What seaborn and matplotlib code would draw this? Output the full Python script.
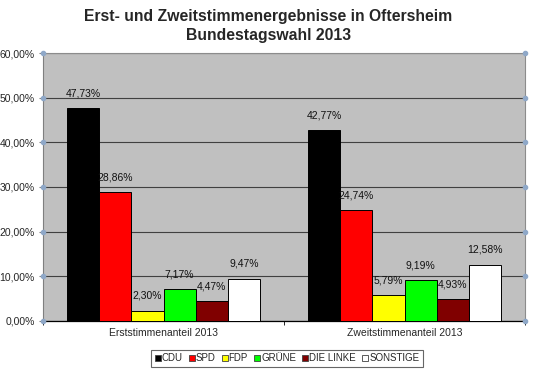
import pandas as pd
import seaborn as sns
import matplotlib.pyplot as plt
from matplotlib.ticker import FuncFormatter
from matplotlib.lines import Line2D

# Daten
gruppen = ['Erststimmenanteil 2013', 'Zweitstimmenanteil 2013']
parteien = ['CDU', 'SPD', 'FDP', 'GRÜNE', 'DIE LINKE', 'SONSTIGE']
erst = [47.73, 28.86, 2.30, 7.17, 4.47, 9.47]
zweit = [42.77, 24.74, 5.79, 9.19, 4.93, 12.58]
farben = ['#000000', '#ff0000', '#ffff00', '#00ff00', '#800000', '#ffffff']
y_ticks = [0, 10, 20, 30, 40, 50, 60]

df = pd.DataFrame({
    'Gruppe': [gruppen[0]] * 6 + [gruppen[1]] * 6,
    'Partei': parteien * 2,
    'Anteil': erst + zweit,
})

sns.set_style('white')
plt.rcParams['font.family'] = ['Liberation Sans', 'DejaVu Sans']

fig = plt.figure(figsize=(5.37, 3.77), dpi=100)
ax = fig.add_axes([0.080, 0.149, 0.898, 0.710])
ax.set_facecolor('#c0c0c0')

sns.barplot(data=df, x='Gruppe', y='Anteil', hue='Partei', hue_order=parteien,
            palette=farben, width=0.8, edgecolor='black', linewidth=0.7,
            saturation=1, legend=False, ax=ax, zorder=3)

def fmt_pct(v, pos=None):
    return f'{v:.2f}%'.replace('.', ',')

for cont in ax.containers:
    ax.bar_label(cont, labels=[fmt_pct(b.get_height()) for b in cont],
                 padding=7, fontsize=7.5, color='#111111')

ax.set_ylim(0, 60)
ax.set_yticks(y_ticks)
ax.yaxis.set_major_formatter(FuncFormatter(fmt_pct))
ax.set_xlim(-0.5, 1.5)
ax.grid(axis='y', color='#404040', linewidth=0.8, zorder=0)
ax.set_axisbelow(True)
ax.set_xlabel('')
ax.set_ylabel('')
ax.tick_params(axis='y', labelsize=7.5, length=3, color='#7f7f7f', pad=3, left=True)
ax.tick_params(axis='x', labelsize=7.5, length=0, pad=5)
ax.set_xticks([-0.5, 0.5, 1.5], minor=True)
ax.tick_params(axis='x', which='minor', length=3, color='black', bottom=True)

for s in ['top', 'right']:
    ax.spines[s].set_color('#8c8c8c')
    ax.spines[s].set_linewidth(0.8)
ax.spines['left'].set_color('#7f7f7f')
ax.spines['bottom'].set_color('black')
ax.spines['bottom'].set_linewidth(0.9)

# Markierungen an den Achsen
tr = ax.get_yaxis_transform()
for xx in (0, 1):
    ax.plot([xx] * len(y_ticks), y_ticks, 'o', ms=3, color='#8fa8c8',
            transform=tr, clip_on=False, zorder=5)

fig.suptitle('Erst- und Zweitstimmenergebnisse in Oftersheim\nBundestagswahl 2013',
             fontsize=11.3, fontweight='bold', y=0.975, x=0.5, linespacing=1.3)

handles = [Line2D([], [], marker='s', linestyle='none', markersize=4.5,
                  markerfacecolor=c, markeredgecolor='#404040', markeredgewidth=0.6)
           for c in farben]
leg = fig.legend(handles, parteien, loc='center', bbox_to_anchor=(0.534, 0.05),
                 ncol=6, fontsize=7, frameon=True, fancybox=False,
                 handlelength=0.7, handletextpad=0.05, columnspacing=0.6,
                 borderpad=0.35, edgecolor='#404040')
leg.get_frame().set_linewidth(0.8)

fig.savefig('out.png', dpi=100)
